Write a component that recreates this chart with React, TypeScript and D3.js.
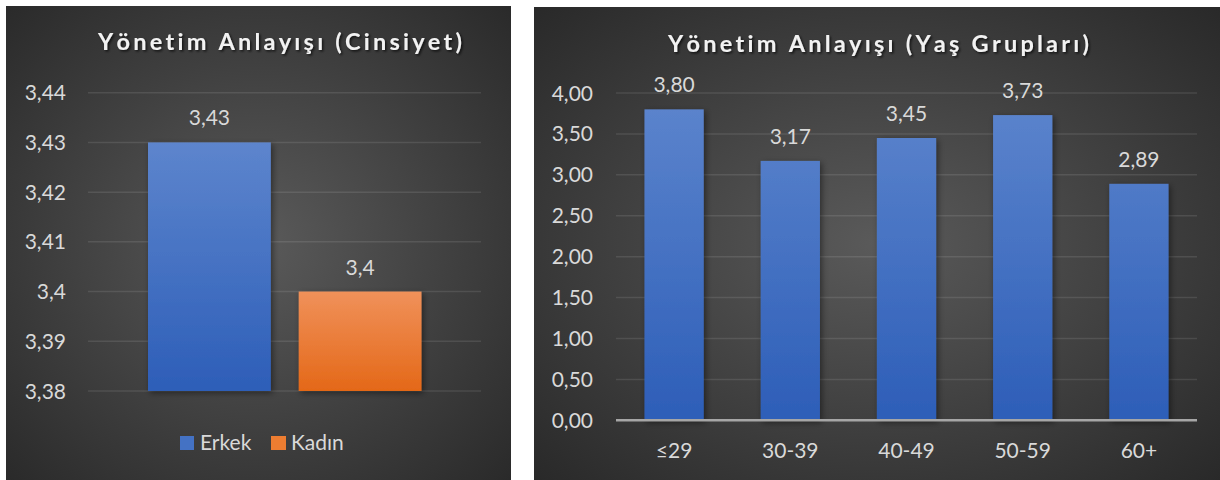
import React from "react";
import * as d3 from "d3";

const genderSeries = ["Erkek", "Kadın"];
const genderValues = [3.43, 3.4];
const genderTicks = [3.38, 3.39, 3.4, 3.41, 3.42, 3.43, 3.44];
const genderLabels = ["3,43", "3,4"];
const genderTickLabels = ["3,38", "3,39", "3,4", "3,41", "3,42", "3,43", "3,44"];

const ageCategories = ["≤29", "30-39", "40-49", "50-59", "60+"];
const ageValues = [3.8, 3.17, 3.45, 3.73, 2.89];
const ageTicks = [0, 0.5, 1, 1.5, 2, 2.5, 3, 3.5, 4];

const FONT = "Lato, 'Open Sans', sans-serif";
const TXT = "#d9d9d9";

const fmt2 = (v: number) => v.toFixed(2).replace(".", ",");

export default function App() {
  // Left chart scales
  const yL = d3.scaleLinear().domain([3.38, 3.44]).range([391, 92.7]);
  const xL = d3.scaleBand<string>().domain(genderSeries).range([148, 421.5]).paddingInner(0.185);
  const genderFill = ["url(#gBlue)", "url(#gOrange)"];
  const genderSolid = ["#4472c4", "#ed7d31"];

  // Right chart scales
  const yR = d3.scaleLinear().domain([0, 4]).range([420.3, 93]);
  const xR = d3.scaleBand<string>().domain(ageCategories).range([616, 1197]).paddingInner(0.49).paddingOuter(0.245);

  const titleStyle = { fontVariantLigatures: "none" as const, fontKerning: "none" as const };

  return (
    <svg width={1220} height={480} style={{ position: "absolute", left: 0, top: 0, background: "#fff" }} fontFamily={FONT}>
      <defs>
        <radialGradient id="bgL" cx="0.5" cy="0.5" r="0.75">
          <stop offset="0" stopColor="#5a5a5a" />
          <stop offset="1" stopColor="#272727" />
        </radialGradient>
        <radialGradient id="bgR" cx="0.5" cy="0.5" r="0.75">
          <stop offset="0" stopColor="#5a5a5a" />
          <stop offset="1" stopColor="#262626" />
        </radialGradient>
        <linearGradient id="gBlue" x1="0" y1="0" x2="0" y2="1">
          <stop offset="0" stopColor="#5d85cd" />
          <stop offset="1" stopColor="#2d5eb8" />
        </linearGradient>
        <linearGradient id="gBlueR" gradientUnits="userSpaceOnUse" x1="0" y1="93" x2="0" y2="420">
          <stop offset="0" stopColor="#5d85cd" />
          <stop offset="1" stopColor="#2d5eb8" />
        </linearGradient>
        <linearGradient id="gOrange" x1="0" y1="0" x2="0" y2="1">
          <stop offset="0" stopColor="#f0915a" />
          <stop offset="1" stopColor="#e46818" />
        </linearGradient>
        <filter id="barShadow" x="-20%" y="-20%" width="140%" height="140%">
          <feDropShadow dx="2" dy="2" stdDeviation="3" floodColor="#000" floodOpacity="0.45" />
        </filter>
        <filter id="titleShadow" x="-10%" y="-30%" width="120%" height="160%">
          <feDropShadow dx="1.5" dy="1.5" stdDeviation="1.2" floodColor="#000" floodOpacity="0.7" />
        </filter>
      </defs>

      {/* Left panel */}
      <rect x={6} y={6} width={505} height={474} fill="url(#bgL)" />
      <text x={280} y={50} textAnchor="middle" fill="#f2f2f2" fontWeight="bold" fontSize={23.5} style={titleStyle}
        textLength={364} lengthAdjust="spacing" filter="url(#titleShadow)">Yönetim Anlayışı (Cinsiyet)</text>
      {genderTicks.map((t, i) => (
        <g key={"gl" + i}>
          <line x1={88} x2={481} y1={yL(t)} y2={yL(t)} stroke="#ffffff" strokeOpacity={0.1} strokeWidth={1.5} />
          <text x={66} y={yL(t)} dy="0.36em" textAnchor="end" fill={TXT} fontSize={21}>{genderTickLabels[i]}</text>
        </g>
      ))}
      {genderSeries.map((s, i) => (
        <g key={"gb" + i}>
          <rect x={xL(s)} y={yL(genderValues[i])} width={xL.bandwidth()} height={yL(3.38) - yL(genderValues[i])}
            fill={genderFill[i]} filter="url(#barShadow)" />
          <text x={(xL(s) as number) + xL.bandwidth() / 2} y={yL(genderValues[i]) - 17} textAnchor="middle" fill={TXT} fontSize={21}>
            {genderLabels[i]}
          </text>
        </g>
      ))}
      {/* legend */}
      <rect x={180} y={436} width={14} height={14} fill={genderSolid[0]} />
      <text x={200} y={450} fill={TXT} fontSize={21}>{genderSeries[0]}</text>
      <rect x={271} y={436} width={15} height={14} fill={genderSolid[1]} />
      <text x={291} y={450} fill={TXT} fontSize={21}>{genderSeries[1]}</text>

      {/* Right panel */}
      <rect x={534} y={7} width={686} height={473} fill="url(#bgR)" />
      <text x={878.5} y={52} textAnchor="middle" fill="#f2f2f2" fontWeight="bold" fontSize={23.5} style={titleStyle}
        textLength={421} lengthAdjust="spacing" filter="url(#titleShadow)">Yönetim Anlayışı (Yaş Grupları)</text>
      {ageTicks.map((t, i) => (
        <g key={"ar" + i}>
          {t > 0 && (
            <line x1={616} x2={1197} y1={yR(t)} y2={yR(t)} stroke="#ffffff" strokeOpacity={0.1} strokeWidth={1.5} />
          )}
          <text x={593} y={yR(t)} dy="0.36em" textAnchor="end" fill={TXT} fontSize={21}>{fmt2(t)}</text>
        </g>
      ))}
      {ageCategories.map((c, i) => (
        <g key={"ab" + i}>
          <rect x={xR(c)} y={yR(ageValues[i])} width={xR.bandwidth()} height={yR(0) - yR(ageValues[i])}
            fill="url(#gBlueR)" filter="url(#barShadow)" />
          <text x={(xR(c) as number) + xR.bandwidth() / 2} y={yR(ageValues[i]) - 17} textAnchor="middle" fill={TXT} fontSize={21}>
            {fmt2(ageValues[i])}
          </text>
          <text x={(xR(c) as number) + xR.bandwidth() / 2} y={458} textAnchor="middle" fill={TXT} fontSize={21}>{c}</text>
        </g>
      ))}
      <line x1={616} x2={1197} y1={yR(0)} y2={yR(0)} stroke="#a6a6a6" strokeWidth={2.5} />
    </svg>
  );
}
